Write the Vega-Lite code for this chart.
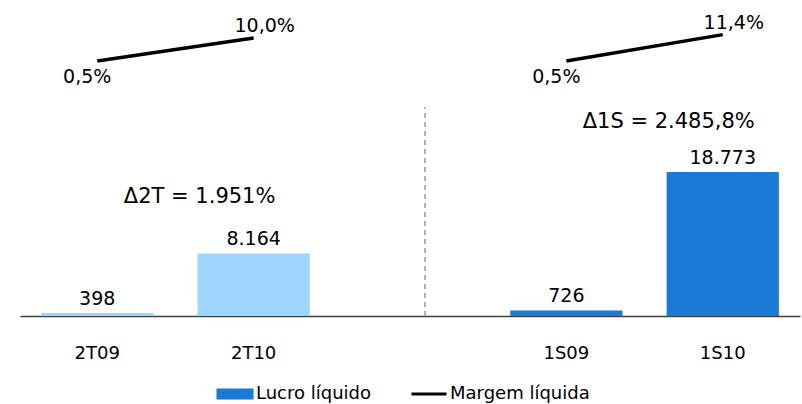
{
  "$schema": "https://vega.github.io/schema/vega-lite/v6.json",
  "width": 780,
  "height": 316,
  "autosize": {"type": "none"},
  "padding": {"left": 20, "top": 0, "right": 2, "bottom": 88},
  "config": {
    "view": {"stroke": null},
    "font": "DejaVu Sans",
    "locale": {"number": {"decimal": ",", "thousands": ".", "grouping": [3], "currency": ["R$", ""]}},
    "text": {"font": "DejaVu Sans", "fontSize": 19, "color": "#000000"}
  },
  "data": {
    "values": [
      {"period": "2T09", "group": "2T", "lucro": 398, "margem": 0.005},
      {"period": "2T10", "group": "2T", "lucro": 8164, "margem": 0.10},
      {"period": "1S09", "group": "1S", "lucro": 726, "margem": 0.005},
      {"period": "1S10", "group": "1S", "lucro": 18773, "margem": 0.114}
    ]
  },
  "encoding": {
    "x": {
      "field": "period",
      "type": "nominal",
      "sort": null,
      "scale": {"domain": ["2T09", "2T10", " ", "1S09", "1S10"], "paddingInner": 0.282, "paddingOuter": 0.135},
      "axis": {
        "title": null,
        "labelAngle": 0,
        "ticks": false,
        "grid": false,
        "domainColor": "#404040",
        "domainWidth": 1.5,
        "labelFontSize": 18,
        "labelFont": "DejaVu Sans",
        "labelColor": "#000000",
        "labelPadding": 28
      }
    }
  },
  "layer": [
    {
      "mark": {"type": "rule", "strokeDash": [5, 4], "color": "#b0b0b0", "strokeWidth": 1.2, "xOffset": 15},
      "encoding": {
        "x": {"datum": " "},
        "y": {"datum": 0, "type": "quantitative", "scale": {"domain": [0, 41200]}, "axis": null},
        "y2": {"datum": 27200}
      }
    },
    {
      "mark": {"type": "bar"},
      "encoding": {
        "y": {"field": "lucro", "type": "quantitative", "scale": {"domain": [0, 41200]}, "axis": null},
        "fill": {"field": "group", "type": "nominal", "scale": {"domain": ["2T", "1S"], "range": ["#9dd5fd", "#1a7bd6"]}, "legend": null}
      }
    },
    {
      "mark": {"type": "text", "baseline": "alphabetic", "dy": -8},
      "encoding": {
        "y": {"field": "lucro", "type": "quantitative", "scale": {"domain": [0, 41200]}, "axis": null},
        "text": {"field": "lucro", "type": "quantitative", "format": ",.0f"}
      }
    },
    {
      "data": {
        "values": [
          {"period": "2T10", "note": "Δ2T = 1.951%", "level": 14733},
          {"period": "1S10", "note": "Δ1S = 2.485,8%", "level": 24511}
        ]
      },
      "mark": {"type": "text", "baseline": "alphabetic", "fontSize": 21, "dx": -54},
      "encoding": {
        "x": {"field": "period", "type": "nominal"},
        "y": {"field": "level", "type": "quantitative", "scale": {"domain": [0, 41200]}, "axis": null},
        "text": {"field": "note"}
      }
    },
    {
      "mark": {"type": "line", "strokeWidth": 3.5},
      "encoding": {
        "y": {"field": "margem", "type": "quantitative", "scale": {"domain": [-1.048, 0.257], "nice": false, "zero": false}, "axis": null},
        "detail": {"field": "group"},
        "color": {
          "datum": "Margem líquida",
          "type": "nominal",
          "scale": {"domain": ["Lucro líquido", "Margem líquida"], "range": ["#1a7bd6", "#000000"]},
          "legend": {
            "title": null,
            "orient": "none",
            "legendX": 206,
            "legendY": 385,
            "direction": "horizontal",
            "labelFontSize": 18,
            "labelFont": "DejaVu Sans",
            "labelColor": "#000000",
            "symbolSize": 1369,
            "labelOffset": 12,
            "columnPadding": 33,
            "encode": {
              "symbols": {
                "update": {
                  "shape": {"signal": "datum.value === 'Lucro líquido' ? 'M-1,-0.3H1V0.3H-1Z' : 'M-0.946,0H0.946'"},
                  "fill": {"signal": "datum.value === 'Lucro líquido' ? '#1a7bd6' : 'transparent'"},
                  "stroke": {"signal": "datum.value === 'Lucro líquido' ? '#1a7bd6' : '#000000'"},
                  "strokeWidth": {"signal": "datum.value === 'Lucro líquido' ? 0 : 3"},
                  "opacity": {"value": 1}
                }
              }
            }
          }
        }
      }
    },
    {
      "transform": [{"filter": "datum.period === '2T09' || datum.period === '1S09'"}],
      "mark": {"type": "text", "baseline": "alphabetic", "dx": -10, "dy": 22},
      "encoding": {
        "y": {"field": "margem", "type": "quantitative", "scale": {"domain": [-1.048, 0.257], "nice": false, "zero": false}, "axis": null},
        "text": {"field": "margem", "type": "quantitative", "format": ".1%"}
      }
    },
    {
      "transform": [{"filter": "datum.period === '2T10' || datum.period === '1S10'"}],
      "mark": {"type": "text", "baseline": "alphabetic", "dx": 11, "dy": -6},
      "encoding": {
        "y": {"field": "margem", "type": "quantitative", "scale": {"domain": [-1.048, 0.257], "nice": false, "zero": false}, "axis": null},
        "text": {"field": "margem", "type": "quantitative", "format": ".1%"}
      }
    }
  ],
  "resolve": {"scale": {"y": "independent"}}
}
